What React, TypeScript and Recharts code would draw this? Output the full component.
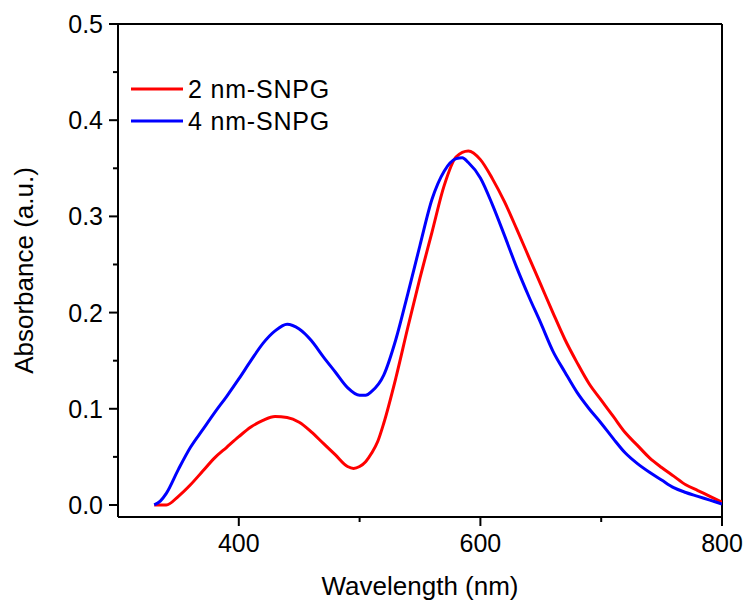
import React from "react";
import { LineChart, Line, XAxis, YAxis, ReferenceLine } from "recharts";

const seriesNames = ["2 nm-SNPG", "4 nm-SNPG"];
const seriesColors = ["#ff0000", "#0000ff"];

const wl2nm = [330, 340, 350, 360, 370, 380, 390, 400, 410, 420, 430, 440, 450, 460, 470, 480, 490, 495, 500, 505, 510, 515, 520, 530, 540, 550, 560, 570, 580, 590, 600, 610, 620, 630, 640, 650, 660, 670, 680, 690, 700, 710, 720, 730, 740, 750, 760, 770, 780, 790, 800];
const abs2nm = [0.0, 0.0, 0.009, 0.021, 0.035, 0.049, 0.06, 0.071, 0.081, 0.088, 0.092, 0.091, 0.086, 0.076, 0.064, 0.052, 0.04, 0.038, 0.04, 0.045, 0.054, 0.066, 0.085, 0.132, 0.185, 0.236, 0.284, 0.332, 0.362, 0.368, 0.359, 0.339, 0.315, 0.287, 0.258, 0.229, 0.2, 0.172, 0.148, 0.126, 0.109, 0.092, 0.075, 0.062, 0.049, 0.039, 0.03, 0.021, 0.015, 0.009, 0.003];

const wl4nm = [330, 335, 340, 350, 360, 370, 380, 390, 400, 410, 420, 430, 440, 450, 460, 470, 480, 490, 500, 505, 510, 520, 530, 540, 550, 560, 570, 580, 585, 590, 600, 610, 620, 630, 640, 650, 660, 670, 680, 690, 700, 710, 720, 730, 740, 750, 760, 770, 780, 790, 800];
const abs4nm = [0.0, 0.004, 0.012, 0.037, 0.06, 0.078, 0.096, 0.113, 0.131, 0.15, 0.168, 0.181, 0.188, 0.183, 0.171, 0.154, 0.138, 0.122, 0.114, 0.114, 0.118, 0.135, 0.172, 0.22, 0.27, 0.318, 0.347, 0.36, 0.361, 0.356, 0.34, 0.312, 0.28, 0.247, 0.217, 0.189, 0.16, 0.138, 0.117, 0.1, 0.085, 0.069, 0.054, 0.043, 0.034, 0.026, 0.018, 0.013, 0.009, 0.005, 0.001];

const xTicks = [400, 500, 600, 700, 800];
const xLabeled = [400, 600, 800];
const yTicks = [0, 0.05, 0.1, 0.15, 0.2, 0.25, 0.3, 0.35, 0.4, 0.45, 0.5];
const yLabeled = [0, 0.1, 0.2, 0.3, 0.4, 0.5];

const data2 = wl2nm.map((x, i) => ({ x, y: abs2nm[i] }));
const data4 = wl4nm.map((x, i) => ({ x, y: abs4nm[i] }));

const FONT = "'Liberation Sans', Arial, sans-serif";

const XTick = (props: any) => {
  const { x, y, payload } = props;
  const v = payload.value;
  const major = xLabeled.includes(v);
  return (
    <g>
      <line x1={x} x2={x} y1={y} y2={y + (major ? 9 : 5)} stroke="#000" strokeWidth={2} />
      {major && (
        <text x={x} y={y + 35} textAnchor="middle" fontSize={25} fontFamily={FONT} fill="#000">
          {v}
        </text>
      )}
    </g>
  );
};

const YTick = (props: any) => {
  const { x, y, payload } = props;
  const v = payload.value;
  const major = yLabeled.some((t) => Math.abs(t - v) < 1e-6);
  return (
    <g>
      <line x1={x} x2={x - (major ? 9 : 5)} y1={y} y2={y} stroke="#000" strokeWidth={2} />
      {major && (
        <text x={x - 15} y={y + 9} textAnchor="end" fontSize={25} fontFamily={FONT} fill="#000">
          {v.toFixed(1)}
        </text>
      )}
    </g>
  );
};

export default function App() {
  return (
    <div style={{ position: "absolute", left: 0, top: 0, width: 749, height: 601, background: "#fff" }}>
      <LineChart width={749} height={601} margin={{ top: 24, right: 27, left: 0, bottom: 0 }}>
        <XAxis
          dataKey="x"
          type="number"
          domain={[300, 800]}
          ticks={xTicks}
          allowDataOverflow
          tick={<XTick />}
          tickLine={false}
          tickSize={0}
          tickMargin={0}
          axisLine={{ stroke: "#000", strokeWidth: 2 }}
          height={84}
          label={{ value: "Wavelength (nm)", position: "insideBottom", offset: 6, fontSize: 26, fontFamily: FONT, fill: "#000" }}
        />
        <YAxis
          type="number"
          domain={[-0.0125, 0.5]}
          ticks={yTicks}
          allowDataOverflow
          tick={<YTick />}
          tickLine={false}
          tickSize={0}
          tickMargin={0}
          axisLine={{ stroke: "#000", strokeWidth: 2 }}
          width={118}
          label={{ value: "Absorbance (a.u.)", angle: -90, position: "insideLeft", offset: 24, fontSize: 26, fontFamily: FONT, fill: "#000", style: { textAnchor: "middle" } }}
        />
        <ReferenceLine y={0.5} stroke="#000" strokeWidth={2} />
        <ReferenceLine x={800} stroke="#000" strokeWidth={2} />
        <Line data={data2} dataKey="y" name={seriesNames[0]} type="monotone" stroke={seriesColors[0]} strokeWidth={3} dot={false} isAnimationActive={false} />
        <Line data={data4} dataKey="y" name={seriesNames[1]} type="monotone" stroke={seriesColors[1]} strokeWidth={3} dot={false} isAnimationActive={false} />
      </LineChart>
      <svg style={{ position: "absolute", left: 128, top: 72 }} width={260} height={70}>
        {seriesNames.map((n, i) => (
          <g key={n}>
            <line x1={3} x2={55} y1={17 + i * 32} y2={17 + i * 32} stroke={seriesColors[i]} strokeWidth={3} />
            <text x={60} y={17 + i * 32 + 9} fontSize={25} letterSpacing={0.8} fontFamily={FONT} fill="#000">
              {n}
            </text>
          </g>
        ))}
      </svg>
    </div>
  );
}
